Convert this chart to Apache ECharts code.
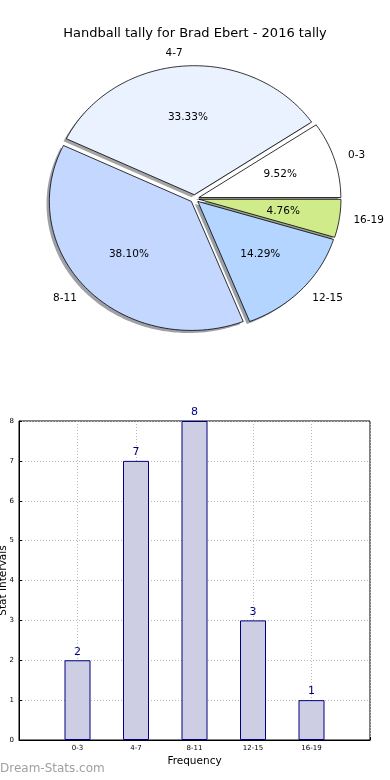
<!DOCTYPE html>
<html>
<head>
<meta charset="utf-8">
<script src="https://cdn.jsdelivr.net/npm/echarts@6/dist/echarts.min.js"></script>
<style>
html,body{margin:0;padding:0;background:#fff;}
#main{width:390px;height:780px;}
</style>
</head>
<body>
<div id="main"></div>
<script>
// ---- data ----
const titleText = 'Handball tally for Brad Ebert - 2016 tally';
const categories = ['0-3', '4-7', '8-11', '12-15', '16-19'];
const tallyValues = [2, 7, 8, 3, 1];
const pieColors = ['#ffffff', '#eaf2ff', '#c4d8ff', '#b3d5ff', '#d0ec8a'];
const yTicks = [0, 1, 2, 3, 4, 5, 6, 7, 8];
const xAxisName = 'Frequency';
const yAxisName = 'Stat Intervals';
const watermark = 'Dream-Stats.com';

// ---- pie geometry (data units, radius = 1) ----
const EXPLODE = 0.031;
const SHADOW = 0.02;
const FONT = 'DejaVu Sans';

const total = tallyValues.reduce((a, b) => a + b, 0);
const cum = [];
tallyValues.reduce((acc, v, i) => { cum[i] = acc; return acc + v; }, 0);

function shade(hex) {
  const r = parseInt(hex.slice(1, 3), 16), g = parseInt(hex.slice(3, 5), 16), b = parseInt(hex.slice(5, 7), 16);
  return 'rgba(' + Math.round(r * 0.3) + ',' + Math.round(g * 0.3) + ',' + Math.round(b * 0.3) + ',0.5)';
}

function renderWedge(params, api) {
  const i = params.dataIndex;
  const v = api.value(1);
  const a0 = cum[i] / total * Math.PI * 2;
  const a1 = (cum[i] + v) / total * Math.PI * 2;
  const mid = (a0 + a1) / 2;
  const dx = EXPLODE * Math.cos(mid), dy = EXPLODE * Math.sin(mid);
  const steps = Math.max(8, Math.ceil((a1 - a0) / (Math.PI / 180)));
  const pts = [], spts = [];
  pts.push(api.coord([dx, dy]));
  spts.push(api.coord([dx - SHADOW, dy - SHADOW]));
  for (let k = 0; k <= steps; k++) {
    const t = a0 + (a1 - a0) * k / steps;
    pts.push(api.coord([dx + Math.cos(t), dy + Math.sin(t)]));
    spts.push(api.coord([dx - SHADOW + Math.cos(t), dy - SHADOW + Math.sin(t)]));
  }
  const lp = api.coord([dx + 1.1 * Math.cos(mid), dy + 1.1 * Math.sin(mid)]);
  const pp = api.coord([dx + 0.6 * Math.cos(mid), dy + 0.6 * Math.sin(mid)]);
  return {
    type: 'group',
    children: [
      { type: 'polygon', z2: 1, shape: { points: spts }, style: { fill: shade(pieColors[i]), stroke: null } },
      { type: 'polygon', z2: 10, shape: { points: pts }, style: { fill: pieColors[i], stroke: '#000', lineWidth: 0.8 } },
      { type: 'text', z2: 20, x: lp[0], y: lp[1], style: {
          text: categories[i], fill: '#000', font: '10.5px ' + FONT,
          align: Math.cos(mid) >= 0 ? 'left' : 'right', verticalAlign: 'middle' } },
      { type: 'text', z2: 20, x: pp[0], y: pp[1], style: {
          text: (v / total * 100).toFixed(2) + '%', fill: '#000', font: '10.5px ' + FONT,
          align: 'center', verticalAlign: 'middle' } }
    ]
  };
}

const chart = echarts.init(document.getElementById('main'), null, { renderer: 'canvas' });
chart.setOption({
  animation: false,
  backgroundColor: '#fff',
  title: {
    text: titleText, left: 'center', top: 22,
    textStyle: { fontFamily: FONT, fontSize: 13, fontWeight: 'normal', color: '#000' }
  },
  grid: [
    { left: 10, top: 31.0, width: 369.2, height: 335.4, show: false, containLabel: false, outerBoundsMode: 'none' },
    { left: 19, top: 421, width: 351, height: 319, show: true, borderColor: '#000', borderWidth: 1,
      backgroundColor: 'transparent', containLabel: false, outerBoundsMode: 'none' }
  ],
  xAxis: [
    { gridIndex: 0, type: 'value', min: -1.3, max: 1.3, show: false },
    {
      gridIndex: 1, type: 'value', min: -1, max: 5, interval: 1,
      name: xAxisName, nameLocation: 'middle', nameGap: 16, nameMoveOverlap: false,
      nameTextStyle: { fontFamily: FONT, fontSize: 10.5, color: '#000' },
      axisLine: { show: true, onZero: false, lineStyle: { color: '#000', width: 1 } },
      axisTick: { show: true, inside: true, length: 3, lineStyle: { color: '#000' } },
      axisLabel: { fontFamily: FONT, fontSize: 7, color: '#000', margin: 5,
        formatter: v => (categories[v] !== undefined ? categories[v] : '') },
      splitLine: { show: true, lineStyle: { color: '#bbb', type: [1, 2], width: 1 } }
    }
  ],
  yAxis: [
    { gridIndex: 0, type: 'value', min: -1.3, max: 1.3, show: false },
    {
      gridIndex: 1, type: 'value', min: 0, max: 8, interval: 1,
      name: yAxisName, nameLocation: 'middle', nameGap: 10, nameMoveOverlap: false,
      nameTextStyle: { fontFamily: FONT, fontSize: 10.5, color: '#000' },
      axisLine: { show: true, onZero: false, lineStyle: { color: '#000', width: 1 } },
      axisTick: { show: true, inside: true, length: 3, lineStyle: { color: '#000' } },
      axisLabel: { fontFamily: FONT, fontSize: 7, color: '#000', margin: 5,
        formatter: v => (yTicks.indexOf(v) >= 0 ? String(v) : '') },
      splitLine: { show: true, lineStyle: { color: '#bbb', type: [1, 2], width: 1 } }
    }
  ],
  graphic: [
    { type: 'text', left: 0, top: 763, style: { text: watermark, fill: '#a0a0a0', font: '12px ' + FONT } }
  ],
  series: [
    {
      type: 'custom', xAxisIndex: 0, yAxisIndex: 0, clip: false,
      renderItem: renderWedge,
      data: tallyValues.map((v, i) => [i, v]),
      encode: { x: 0, y: 1 }
    },
    {
      type: 'bar', xAxisIndex: 1, yAxisIndex: 1,
      data: tallyValues.map((v, i) => [i, v]),
      barWidth: 26,
      itemStyle: { color: '#cdcde4', borderColor: '#000080', borderWidth: 1 },
      label: { show: true, position: 'top', distance: 3, color: '#000080', fontFamily: FONT, fontSize: 11,
        formatter: p => String(p.value[1]) }
    }
  ]
});
</script>
</body>
</html>
